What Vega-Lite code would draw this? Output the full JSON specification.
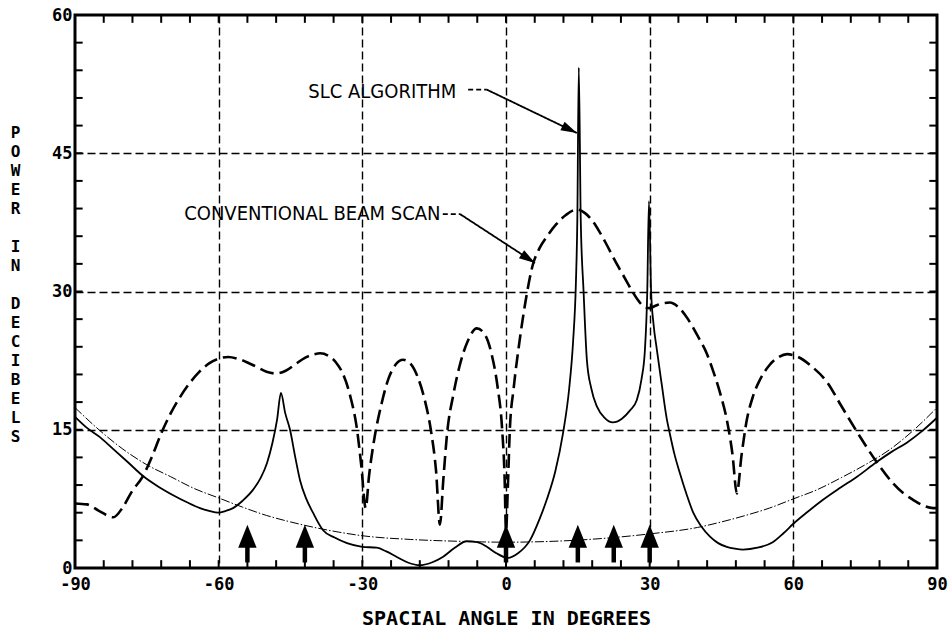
{
  "$schema": "https://vega.github.io/schema/vega-lite/v6.json",
  "width": 862,
  "height": 553,
  "autosize": {"type": "none"},
  "padding": {"left": 75, "top": 15, "right": 14, "bottom": 64},
  "background": "white",
  "config": {
    "view": {"stroke": "black", "strokeWidth": 3},
    "axis": {"labelColor": "black", "titleColor": "black"}
  },
  "datasets": {
    "xticks": [
      {"angle": -84}, {"angle": -78}, {"angle": -72}, {"angle": -66}, {"angle": -60}, {"angle": -54},
      {"angle": -48}, {"angle": -42}, {"angle": -36}, {"angle": -30}, {"angle": -24}, {"angle": -18},
      {"angle": -12}, {"angle": -6}, {"angle": 0}, {"angle": 6}, {"angle": 12}, {"angle": 18},
      {"angle": 24}, {"angle": 30}, {"angle": 36}, {"angle": 42}, {"angle": 48}, {"angle": 54},
      {"angle": 60}, {"angle": 66}, {"angle": 72}, {"angle": 78}, {"angle": 84}
    ],
    "yticks": [
      {"power": 3}, {"power": 6}, {"power": 9}, {"power": 12}, {"power": 15}, {"power": 18},
      {"power": 21}, {"power": 24}, {"power": 27}, {"power": 30}, {"power": 33}, {"power": 36},
      {"power": 39}, {"power": 42}, {"power": 45}, {"power": 48}, {"power": 51}, {"power": 54},
      {"power": 57}
    ],
    "floor": [
      {"angle": -90, "power": 17.4}, {"angle": -85, "power": 15.0}, {"angle": -80, "power": 12.9},
      {"angle": -75, "power": 11.2}, {"angle": -70, "power": 9.9}, {"angle": -65, "power": 8.6},
      {"angle": -60, "power": 7.6}, {"angle": -55, "power": 6.6}, {"angle": -50, "power": 5.7},
      {"angle": -45, "power": 5.0}, {"angle": -40, "power": 4.4}, {"angle": -35, "power": 3.9},
      {"angle": -30, "power": 3.5}, {"angle": -20, "power": 3.1}, {"angle": -10, "power": 2.9},
      {"angle": 0, "power": 2.8}, {"angle": 10, "power": 2.9}, {"angle": 20, "power": 3.2},
      {"angle": 30, "power": 3.7}, {"angle": 40, "power": 4.4}, {"angle": 45, "power": 5.0},
      {"angle": 50, "power": 5.7}, {"angle": 55, "power": 6.5}, {"angle": 60, "power": 7.5},
      {"angle": 65, "power": 8.5}, {"angle": 70, "power": 9.8}, {"angle": 75, "power": 11.2},
      {"angle": 80, "power": 12.8}, {"angle": 85, "power": 14.9}, {"angle": 90, "power": 17.4}
    ],
    "beam": [
      {"angle": -90, "power": 7.0}, {"angle": -87.5, "power": 6.9}, {"angle": -85, "power": 6.2},
      {"angle": -82, "power": 5.5}, {"angle": -80, "power": 6.6}, {"angle": -78, "power": 8.4},
      {"angle": -76, "power": 9.8}, {"angle": -74, "power": 12.0}, {"angle": -72, "power": 14.6},
      {"angle": -70, "power": 16.8}, {"angle": -68, "power": 18.6}, {"angle": -66, "power": 20.1},
      {"angle": -64, "power": 21.3}, {"angle": -62, "power": 22.2}, {"angle": -60, "power": 22.7},
      {"angle": -58, "power": 22.9}, {"angle": -56, "power": 22.7}, {"angle": -54, "power": 22.3},
      {"angle": -52, "power": 21.8}, {"angle": -50, "power": 21.3}, {"angle": -48, "power": 21.1},
      {"angle": -46, "power": 21.4}, {"angle": -44, "power": 22.1}, {"angle": -42, "power": 22.8},
      {"angle": -40, "power": 23.2}, {"angle": -38.8, "power": 23.3}, {"angle": -37, "power": 23.0},
      {"angle": -35.5, "power": 22.3}, {"angle": -34, "power": 21.0}, {"angle": -32.5, "power": 18.6},
      {"angle": -31.1, "power": 15.0}, {"angle": -30.2, "power": 11.0}, {"angle": -29.3, "power": 6.5},
      {"angle": -28.6, "power": 10.0}, {"angle": -27.5, "power": 14.0}, {"angle": -26, "power": 17.8},
      {"angle": -24.5, "power": 20.6}, {"angle": -23, "power": 22.1}, {"angle": -21.5, "power": 22.6},
      {"angle": -20, "power": 22.2}, {"angle": -18.5, "power": 20.8}, {"angle": -17, "power": 18.3},
      {"angle": -15.7, "power": 15.0}, {"angle": -14.6, "power": 10.5}, {"angle": -13.8, "power": 4.7},
      {"angle": -13.1, "power": 9.5}, {"angle": -12.3, "power": 14.6}, {"angle": -11, "power": 18.8},
      {"angle": -9.5, "power": 22.3}, {"angle": -8, "power": 24.6}, {"angle": -6.1, "power": 26.0},
      {"angle": -4.5, "power": 25.4}, {"angle": -3, "power": 23.2}, {"angle": -1.8, "power": 19.8},
      {"angle": -0.8, "power": 15.0}, {"angle": -0.3, "power": 10.0}, {"angle": 0, "power": 4.0},
      {"angle": 0.4, "power": 9.0}, {"angle": 0.8, "power": 15.0}, {"angle": 1.6, "power": 19.5},
      {"angle": 2.8, "power": 24.5}, {"angle": 4.2, "power": 29.3}, {"angle": 5.6, "power": 32.9},
      {"angle": 7, "power": 34.7}, {"angle": 8.6, "power": 36.0}, {"angle": 10.5, "power": 37.3},
      {"angle": 12.5, "power": 38.3}, {"angle": 14.8, "power": 38.9}, {"angle": 16.5, "power": 38.5},
      {"angle": 18, "power": 37.7}, {"angle": 19.5, "power": 36.5}, {"angle": 21, "power": 35.1},
      {"angle": 22.5, "power": 33.6}, {"angle": 24, "power": 32.2}, {"angle": 25.3, "power": 31.0},
      {"angle": 26.5, "power": 29.9}, {"angle": 27.8, "power": 28.9}, {"angle": 29, "power": 28.3},
      {"angle": 30, "power": 28.2}, {"angle": 31, "power": 28.4}, {"angle": 32.5, "power": 28.7},
      {"angle": 34.2, "power": 28.8}, {"angle": 36, "power": 28.3}, {"angle": 38, "power": 27.0},
      {"angle": 40, "power": 25.2}, {"angle": 41.9, "power": 23.3}, {"angle": 43.3, "power": 21.3},
      {"angle": 44.7, "power": 19.0}, {"angle": 46.1, "power": 16.1}, {"angle": 47.3, "power": 12.3},
      {"angle": 48.2, "power": 8.1}, {"angle": 49.2, "power": 12.3}, {"angle": 50.3, "power": 16.1},
      {"angle": 51.5, "power": 18.5}, {"angle": 53, "power": 20.4}, {"angle": 55, "power": 22.0},
      {"angle": 57, "power": 22.9}, {"angle": 58.7, "power": 23.2}, {"angle": 61, "power": 22.9},
      {"angle": 64, "power": 21.8}, {"angle": 67, "power": 20.2}, {"angle": 70, "power": 17.6},
      {"angle": 73.5, "power": 14.6}, {"angle": 77.4, "power": 11.5}, {"angle": 80.8, "power": 9.2},
      {"angle": 83, "power": 8.1}, {"angle": 85, "power": 7.4}, {"angle": 87, "power": 6.8},
      {"angle": 89.2, "power": 6.5}, {"angle": 90, "power": 6.5}
    ],
    "slc": [
      {"angle": -90, "power": 16.4}, {"angle": -87.5, "power": 15.2}, {"angle": -84.8, "power": 14.2},
      {"angle": -82, "power": 12.9}, {"angle": -79, "power": 11.5}, {"angle": -75.6, "power": 9.9},
      {"angle": -72.5, "power": 8.8}, {"angle": -69.5, "power": 7.9}, {"angle": -66.5, "power": 7.1},
      {"angle": -63.9, "power": 6.5}, {"angle": -62, "power": 6.2}, {"angle": -60.1, "power": 6.0},
      {"angle": -58.5, "power": 6.2}, {"angle": -57, "power": 6.5}, {"angle": -55, "power": 7.3},
      {"angle": -52.8, "power": 8.5}, {"angle": -51.2, "power": 9.8}, {"angle": -49.9, "power": 11.4},
      {"angle": -48.8, "power": 13.5}, {"angle": -47.8, "power": 16.1}, {"angle": -47, "power": 19.0},
      {"angle": -46.1, "power": 16.8}, {"angle": -45.1, "power": 15.0}, {"angle": -44, "power": 12.0},
      {"angle": -43, "power": 9.5}, {"angle": -41.7, "power": 7.5}, {"angle": -40.3, "power": 6.0},
      {"angle": -38.2, "power": 4.1}, {"angle": -35.8, "power": 3.3}, {"angle": -33.2, "power": 2.7},
      {"angle": -30, "power": 2.3}, {"angle": -27, "power": 2.2}, {"angle": -25, "power": 1.8},
      {"angle": -22.8, "power": 1.2}, {"angle": -20.5, "power": 0.6}, {"angle": -18, "power": 0.3},
      {"angle": -15.5, "power": 0.6}, {"angle": -13.2, "power": 1.2}, {"angle": -10.7, "power": 2.2},
      {"angle": -8.2, "power": 2.9}, {"angle": -6, "power": 2.8}, {"angle": -4, "power": 2.3},
      {"angle": -2, "power": 1.6}, {"angle": 0.4, "power": 1.1}, {"angle": 2.5, "power": 1.6},
      {"angle": 5, "power": 3.0}, {"angle": 7, "power": 5.3}, {"angle": 8.5, "power": 7.4},
      {"angle": 10.3, "power": 10.5}, {"angle": 11.9, "power": 14.6}, {"angle": 13.2, "power": 19.5},
      {"angle": 14, "power": 24.5}, {"angle": 14.6, "power": 31.0}, {"angle": 14.9, "power": 38.0},
      {"angle": 15.2, "power": 54.3}, {"angle": 15.6, "power": 38.0}, {"angle": 16.2, "power": 30.0},
      {"angle": 16.9, "power": 22.5}, {"angle": 17.8, "power": 19.5}, {"angle": 19, "power": 17.5},
      {"angle": 20.6, "power": 16.3}, {"angle": 22.3, "power": 15.8}, {"angle": 24.2, "power": 16.2},
      {"angle": 25.9, "power": 17.1}, {"angle": 27.3, "power": 18.2}, {"angle": 28.3, "power": 20.5},
      {"angle": 29, "power": 23.6}, {"angle": 29.5, "power": 30.0}, {"angle": 29.85, "power": 39.8},
      {"angle": 30.3, "power": 30.0}, {"angle": 30.8, "power": 26.5}, {"angle": 31.5, "power": 23.7},
      {"angle": 32.5, "power": 20.0}, {"angle": 33.6, "power": 16.1}, {"angle": 34.2, "power": 14.6},
      {"angle": 35.2, "power": 12.3}, {"angle": 36.3, "power": 10.3}, {"angle": 37.7, "power": 8.0},
      {"angle": 39.1, "power": 6.0}, {"angle": 40.8, "power": 4.5}, {"angle": 42.6, "power": 3.4},
      {"angle": 44.3, "power": 2.7}, {"angle": 46.1, "power": 2.3}, {"angle": 47.8, "power": 2.1},
      {"angle": 49.5, "power": 2.0}, {"angle": 52.5, "power": 2.2}, {"angle": 55.7, "power": 2.8},
      {"angle": 58, "power": 3.8}, {"angle": 60, "power": 4.8}, {"angle": 63, "power": 6.1},
      {"angle": 66.2, "power": 7.4}, {"angle": 69.8, "power": 8.7}, {"angle": 73.3, "power": 9.9},
      {"angle": 77.4, "power": 11.5}, {"angle": 80.5, "power": 12.6}, {"angle": 83.7, "power": 13.6},
      {"angle": 87, "power": 14.9}, {"angle": 90, "power": 16.3}
    ],
    "sources": [
      {"angle": -54}, {"angle": -42}, {"angle": 0}, {"angle": 15}, {"angle": 22.5}, {"angle": 30}
    ],
    "notes": [
      {"angle": -41.3, "power": 51.6, "text": "SLC ALGORITHM"},
      {"angle": -67.2, "power": 38.4, "text": "CONVENTIONAL BEAM SCAN"}
    ],
    "leaders": [
      {"angle": -7.9, "power": 51.9, "seg": "slc-a", "style": "dash"},
      {"angle": -4.0, "power": 51.9, "seg": "slc-a", "style": "dash"},
      {"angle": -4.0, "power": 51.9, "seg": "slc-b", "style": "solid"},
      {"angle": 14.8, "power": 47.2, "seg": "slc-b", "style": "solid"},
      {"angle": -13.2, "power": 38.4, "seg": "cbs-a", "style": "dash"},
      {"angle": -9.6, "power": 38.4, "seg": "cbs-a", "style": "dash"},
      {"angle": -9.6, "power": 38.4, "seg": "cbs-b", "style": "solid"},
      {"angle": 6.05, "power": 33.1, "seg": "cbs-b", "style": "solid"}
    ],
    "tips": [
      {"angle": 14.8, "power": 47.2, "target": "slc"},
      {"angle": 6.05, "power": 33.1, "target": "cbs"}
    ]
  },
  "resolve": {"axis": {"x": "independent", "y": "independent"}},
  "layer": [
    {
      "data": {"name": "floor"},
      "mark": {"type": "line", "stroke": "black", "strokeWidth": 1, "strokeDash": [9, 2, 1.5, 2], "interpolate": "monotone"},
      "encoding": {
        "x": {
          "field": "angle", "type": "quantitative",
          "scale": {"domain": [-90, 90], "nice": false, "zero": false},
          "axis": {"orient": "bottom", "values": [-60, -30, 0, 30, 60], "grid": true, "gridColor": "black", "gridDash": [8, 4], "gridWidth": 1.4, "gridOpacity": 1, "ticks": false, "labels": false, "domain": false, "title": null}
        },
        "y": {
          "field": "power", "type": "quantitative",
          "scale": {"domain": [0, 60], "nice": false, "zero": false},
          "axis": {"orient": "left", "values": [15, 30, 45], "grid": true, "gridColor": "black", "gridDash": [8, 4], "gridWidth": 1.4, "gridOpacity": 1, "ticks": false, "labels": false, "domain": false, "title": null}
        }
      }
    },
    {
      "data": {"name": "beam"},
      "mark": {"type": "line", "stroke": "black", "strokeWidth": 2.6, "strokeDash": [14, 6], "interpolate": "monotone"},
      "encoding": {
        "x": {
          "field": "angle", "type": "quantitative",
          "scale": {"domain": [-90, 90], "nice": false, "zero": false},
          "axis": {
            "orient": "bottom", "zindex": 1, "grid": false, "domain": false, "ticks": false,
            "values": [-90, -60, -30, 0, 30, 60, 90],
            "labelExpr": "'' + datum.value",
            "labelFont": "DejaVu Sans Mono", "labelFontWeight": "bold", "labelFontSize": 17,
            "labelPadding": 8, "labelOverlap": false, "labelFlush": false,
            "title": "SPACIAL ANGLE IN DEGREES",
            "titleFont": "DejaVu Sans Mono", "titleFontWeight": "bold", "titleFontSize": 20,
            "titleY": 50, "titleBaseline": "middle"
          }
        },
        "y": {
          "field": "power", "type": "quantitative",
          "scale": {"domain": [0, 60], "nice": false, "zero": false},
          "axis": {
            "orient": "left", "zindex": 1, "grid": false, "domain": false, "ticks": false,
            "values": [0, 15, 30, 45, 60],
            "labelExpr": "'' + datum.value",
            "labelFont": "DejaVu Sans Mono", "labelFontWeight": "bold", "labelFontSize": 17,
            "labelPadding": 3, "labelOverlap": false, "labelFlush": false,
            "title": ["P", "O", "W", "E", "R", "\u200b", "I", "N", "\u200b", "D", "E", "C", "I", "B", "E", "L", "S"],
            "titleFont": "DejaVu Sans Mono", "titleFontWeight": "bold", "titleFontSize": 16,
            "titleAngle": 0, "titleX": -60, "titleY": 117, "titleAlign": "center", "titleBaseline": "middle", "titleLineHeight": 19
          }
        }
      }
    },
    {
      "data": {"name": "slc"},
      "mark": {"type": "line", "stroke": "black", "strokeWidth": 1.8, "interpolate": "monotone"},
      "encoding": {
        "x": {"field": "angle", "type": "quantitative", "scale": {"domain": [-90, 90], "nice": false, "zero": false}, "axis": null},
        "y": {"field": "power", "type": "quantitative", "scale": {"domain": [0, 60], "nice": false, "zero": false}, "axis": null}
      }
    },
    {
      "data": {"name": "xticks"},
      "mark": {"type": "rule", "stroke": "black", "strokeWidth": 2},
      "encoding": {
        "x": {"field": "angle", "type": "quantitative", "axis": null},
        "y": {"datum": 0, "type": "quantitative", "axis": null},
        "y2": {"datum": 0.85}
      }
    },
    {
      "data": {"name": "xticks"},
      "mark": {"type": "rule", "stroke": "black", "strokeWidth": 2},
      "encoding": {
        "x": {"field": "angle", "type": "quantitative", "axis": null},
        "y": {"datum": 60, "type": "quantitative", "axis": null},
        "y2": {"datum": 59.15}
      }
    },
    {
      "data": {"name": "yticks"},
      "mark": {"type": "rule", "stroke": "black", "strokeWidth": 2},
      "encoding": {
        "y": {"field": "power", "type": "quantitative", "axis": null},
        "x": {"datum": -90, "type": "quantitative", "axis": null},
        "x2": {"datum": -88.4}
      }
    },
    {
      "data": {"name": "yticks"},
      "mark": {"type": "rule", "stroke": "black", "strokeWidth": 2},
      "encoding": {
        "y": {"field": "power", "type": "quantitative", "axis": null},
        "x": {"datum": 90, "type": "quantitative", "axis": null},
        "x2": {"datum": 88.4}
      }
    },
    {
      "data": {"name": "sources"},
      "mark": {"type": "rule", "stroke": "black", "strokeWidth": 4.5},
      "encoding": {
        "x": {"field": "angle", "type": "quantitative", "axis": null},
        "y": {"datum": 0.6, "type": "quantitative", "axis": null},
        "y2": {"datum": 2.6}
      }
    },
    {
      "data": {"name": "sources"},
      "mark": {"type": "point", "shape": "M0,0 L0.4,1 L-0.4,1 Z", "size": 2116, "filled": true, "fill": "black", "opacity": 1, "strokeWidth": 0},
      "encoding": {
        "x": {"field": "angle", "type": "quantitative", "axis": null},
        "y": {"datum": 4.7, "type": "quantitative", "axis": null}
      }
    },
    {
      "data": {"name": "leaders"},
      "mark": {"type": "line", "stroke": "black", "strokeWidth": 1.8},
      "encoding": {
        "x": {"field": "angle", "type": "quantitative", "axis": null},
        "y": {"field": "power", "type": "quantitative", "axis": null},
        "detail": {"field": "seg", "type": "nominal"},
        "strokeDash": {"field": "style", "type": "nominal", "scale": {"domain": ["dash", "solid"], "range": [[5, 3], [1, 0]]}, "legend": null}
      }
    },
    {
      "data": {"name": "tips"},
      "transform": [{"filter": "datum.target == 'slc'"}],
      "mark": {"type": "point", "shape": "M0,0 L-1,-0.3 L-1,0.3 Z", "size": 1024, "angle": 26, "filled": true, "fill": "black", "opacity": 1, "strokeWidth": 0},
      "encoding": {
        "x": {"field": "angle", "type": "quantitative", "axis": null},
        "y": {"field": "power", "type": "quantitative", "axis": null}
      }
    },
    {
      "data": {"name": "tips"},
      "transform": [{"filter": "datum.target == 'cbs'"}],
      "mark": {"type": "point", "shape": "M0,0 L-1,-0.3 L-1,0.3 Z", "size": 1024, "angle": 33, "filled": true, "fill": "black", "opacity": 1, "strokeWidth": 0},
      "encoding": {
        "x": {"field": "angle", "type": "quantitative", "axis": null},
        "y": {"field": "power", "type": "quantitative", "axis": null}
      }
    },
    {
      "data": {"name": "notes"},
      "mark": {"type": "text", "align": "left", "baseline": "middle", "font": "Liberation Sans Narrow, DejaVu Sans Condensed, sans-serif", "fontSize": 20, "fill": "black"},
      "encoding": {
        "x": {"field": "angle", "type": "quantitative", "axis": null},
        "y": {"field": "power", "type": "quantitative", "axis": null},
        "text": {"field": "text"}
      }
    }
  ]
}
